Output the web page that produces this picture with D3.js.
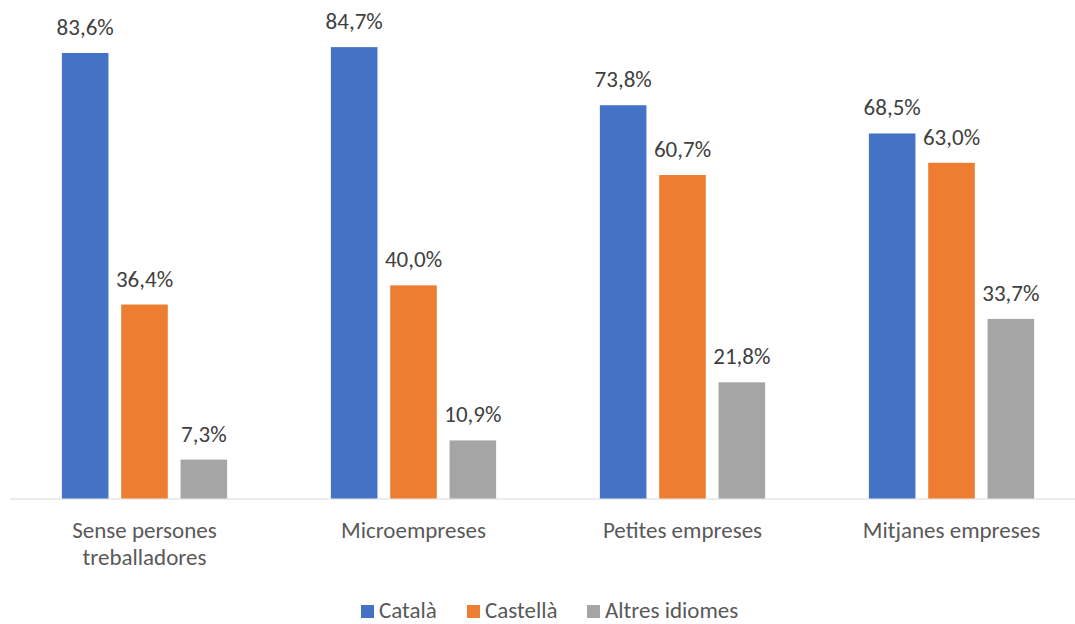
<!DOCTYPE html>
<html>
<head>
<meta charset="utf-8">
<script src="https://cdn.jsdelivr.net/npm/d3@7"></script>
<style>
  body { margin: 0; background: #fff; }
  text { font-family: Carlito, Calibri, Lato, sans-serif; }
</style>
</head>
<body>
<svg width="1075" height="624"></svg>
<script>
const categories = [['Sense persones', 'treballadores'], ['Microempreses'], ['Petites empreses'], ['Mitjanes empreses']];
const seriesNames = ['Català', 'Castellà', 'Altres idiomes'];
const catala = [83.6, 84.7, 73.8, 68.5];
const castella = [36.4, 40.0, 60.7, 63.0];
const altres = [7.3, 10.9, 21.8, 33.7];
const colors = ['#4472c4', '#ed7d31', '#a5a5a5'];

const values = [catala, castella, altres];
const fmt = v => d3.format('.1f')(v).replace('.', ',') + '%';
const fontSize = 23;

const svg = d3.select('svg');

const x0 = d3.scaleBand()
  .domain(d3.range(categories.length))
  .range([10, 1086]);

const x1 = d3.scaleBand()
  .domain(d3.range(seriesNames.length))
  .range([0, x0.bandwidth()])
  .paddingInner(0.215)
  .paddingOuter(0.874);

const y = d3.scaleLinear()
  .domain([0, 90])
  .range([498.5, 18.9]);

// axis line
svg.append('line')
  .attr('x1', 10).attr('x2', 1075)
  .attr('y1', y(0) + 0.5).attr('y2', y(0) + 0.5)
  .attr('stroke', '#d9d9d9')
  .attr('stroke-width', 1);

const groups = svg.append('g')
  .selectAll('g')
  .data(d3.range(categories.length))
  .enter()
  .append('g')
  .attr('transform', i => `translate(${x0(i)},0)`);

const bars = groups.selectAll('g')
  .data(ci => values.map((s, si) => ({ si, v: s[ci] })))
  .enter()
  .append('g');

bars.append('rect')
  .attr('x', d => x1(d.si))
  .attr('width', x1.bandwidth())
  .attr('y', d => y(d.v))
  .attr('height', d => y(0) - y(d.v))
  .attr('fill', d => colors[d.si]);

bars.append('text')
  .attr('x', d => x1(d.si) + x1.bandwidth() / 2)
  .attr('y', d => y(d.v) - 18)
  .attr('text-anchor', 'middle')
  .attr('font-size', fontSize)
  .attr('fill', '#404040')
  .text(d => fmt(d.v));

// category labels
svg.append('g')
  .selectAll('text')
  .data(categories)
  .enter()
  .append('text')
  .attr('x', (d, i) => x0(i) + x0.bandwidth() / 2)
  .attr('y', 538)
  .attr('text-anchor', 'middle')
  .attr('font-size', fontSize)
  .attr('fill', '#595959')
  .selectAll('tspan')
  .data(d => d)
  .enter()
  .append('tspan')
  .attr('x', function() { return this.parentNode.getAttribute('x'); })
  .attr('dy', (d, i) => i === 0 ? 0 : 27)
  .text(d => d);

// legend
const legend = svg.append('g');
const legendX = [361, 467, 587];
const items = legend.selectAll('g')
  .data(seriesNames)
  .enter()
  .append('g')
  .attr('transform', (d, i) => `translate(${legendX[i]},0)`);

items.append('rect')
  .attr('y', 605)
  .attr('width', 13)
  .attr('height', 13)
  .attr('fill', (d, i) => colors[i]);

items.append('text')
  .attr('x', 18)
  .attr('y', 618)
  .attr('font-size', fontSize)
  .attr('fill', '#595959')
  .text(d => d);
</script>
</body>
</html>
